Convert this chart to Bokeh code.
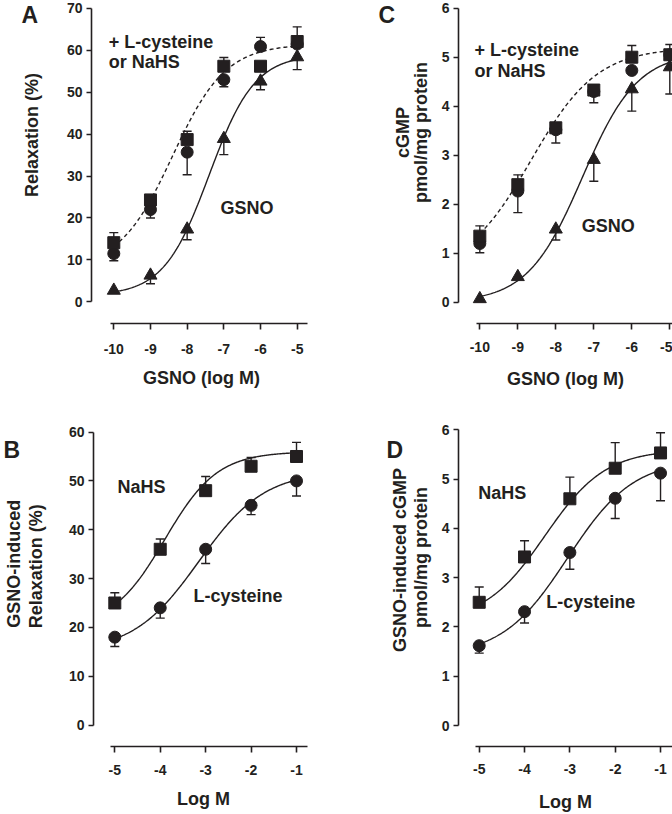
import numpy as np
from bokeh.plotting import figure
from bokeh.layouts import column, row
from bokeh.models import (Range1d, LinearAxis, FixedTicker, ColumnDataSource,
                          Whisker, TeeHead, Label)
from bokeh.core.properties import value
from bokeh.embed import file_html
from bokeh.resources import INLINE

# ---------------- data ----------------
# Panel A: relaxation (%) vs GSNO (log M)
A_x = [-10, -9, -8, -7, -6, -5]
A_gsno = [2.7, 6.3, 17.3, 38.9, 52.6, 58.4]
A_gsno_err = [0, -2.0, -2.5, -3.8, -2.0, -3.0]
A_nahs = [14.1, 24.3, 38.7, 56.2, 56.2, 62.1]
A_nahs_err = [2.4, 0, 2.0, 2.1, 0, 3.5]
A_cys = [11.5, 22.0, 35.7, 53.0, 60.9, 61.5]
A_cys_err = [-1.7, -2.0, -5.4, -1.7, 2.2, 0]
A_fit_gsno = [1.5, 59.0, -7.4, 0.7]       # bottom, top, logEC50, hill
A_fit_plus = [8.0, 61.5, -8.4, 0.6]
A_yticks = [0, 10, 20, 30, 40, 50, 60, 70]

# Panel C: cGMP (pmol/mg protein) vs GSNO (log M)
C_x = [-10, -9, -8, -7, -6, -5]
C_gsno = [0.07, 0.52, 1.49, 2.91, 4.35, 4.8]
C_gsno_err = [0, 0, -0.22, -0.44, -0.45, -0.55]
C_nahs = [1.35, 2.40, 3.56, 4.33, 5.0, 5.05]
C_nahs_err = [0.21, 0.2, 0, 0, 0.24, 0.21]
C_cys = [1.2, 2.27, 3.52, 4.3, 4.73, 5.05]
C_cys_err = [-0.19, -0.44, -0.27, -0.23, 0, 0]
C_fit_gsno = [0.0, 5.1, -7.3, 0.6]
C_fit_plus = [0.6, 5.2, -8.65, 0.5]
C_yticks = [0, 1, 2, 3, 4, 5, 6]
AC_xticks = [-10, -9, -8, -7, -6, -5]

# Panel B: GSNO-induced relaxation (%) vs donor (log M)
B_x = [-5, -4, -3, -2, -1]
B_nahs = [25, 36, 48, 53, 55]
B_nahs_err = [2.1, 2.1, 2.9, 1.8, 2.9]
B_cys = [18, 24, 36, 45, 50]
B_cys_err = [-1.9, -2.1, -2.9, -1.9, -3.1]
B_fit_nahs = [20.0, 56.0, -3.9, 0.75]
B_fit_cys = [15.0, 52.0, -3.15, 0.6]
B_yticks = [0, 10, 20, 30, 40, 50, 60]

# Panel D: GSNO-induced cGMP vs donor (log M)
D_x = [-5, -4, -3, -2, -1]
D_nahs = [2.5, 3.42, 4.6, 5.22, 5.53]
D_nahs_err = [0.31, 0.33, 0.44, 0.52, 0.41]
D_cys = [1.62, 2.31, 3.51, 4.61, 5.12]
D_cys_err = [-0.15, -0.23, -0.34, -0.41, -0.56]
D_fit_nahs = [2.1, 5.6, -3.55, 0.65]
D_fit_cys = [1.4, 5.4, -3.05, 0.6]
D_yticks = [0, 1, 2, 3, 4, 5, 6]
BD_xticks = [-5, -4, -3, -2, -1]

# ---------------- style ----------------
FONT = "Liberation Sans"
INK = "#231f20"
TICK_PX = "14px"
TITLE_PX = "18px"
LETTER_PX = "23px"


def logistic(x, params):
    b, t, c, h = params
    return b + (t - b) / (1.0 + 10 ** (h * (c - x)))


def make_fig(w, h, xr, yr, bl, br, bt, bb):
    p = figure(width=w, height=h, x_range=Range1d(*xr), y_range=Range1d(*yr),
               output_backend="svg", toolbar_location=None,
               x_axis_location=None, y_axis_location=None,
               min_border_left=bl, min_border_right=br,
               min_border_top=bt, min_border_bottom=bb)
    p.outline_line_color = None
    p.grid.visible = False
    p.background_fill_color = "white"
    p.border_fill_color = "white"
    return p


def style_axis(ax, label, tick_len, label_standoff, title_standoff, ticks):
    ax.axis_label = label
    ax.axis_line_color = INK
    ax.axis_line_width = 1.6
    ax.major_tick_line_color = INK
    ax.major_tick_line_width = 1.6
    ax.major_tick_out = tick_len
    ax.major_tick_in = 0
    ax.minor_tick_line_color = None
    ax.major_label_overrides = {t: str(t) for t in ticks}   # plain hyphen minus
    ax.major_label_text_font = FONT
    ax.major_label_text_font_style = "bold"
    ax.major_label_text_font_size = TICK_PX
    ax.major_label_text_color = INK
    ax.major_label_standoff = label_standoff
    ax.axis_label_text_font = FONT
    ax.axis_label_text_font_style = "bold"
    ax.axis_label_text_font_size = TITLE_PX
    ax.axis_label_text_color = INK
    ax.axis_label_standoff = title_standoff


def add_axes(p, xticks, xbounds, xlabel, xlst, xst, yticks, ybounds):
    xa = LinearAxis(ticker=FixedTicker(ticks=xticks), bounds=xbounds)
    style_axis(xa, xlabel, 6, xlst, xst, xticks)
    ya = LinearAxis(ticker=FixedTicker(ticks=yticks), bounds=ybounds)
    style_axis(ya, None, 5, 4, 0, yticks)
    p.add_layout(xa, "below")
    p.add_layout(ya, "left")


def add_series(p, xs, ys, errs, marker, size):
    up = [(x, y, y + e) for x, y, e in zip(xs, ys, errs) if e > 0]
    dn = [(x, y + e, y) for x, y, e in zip(xs, ys, errs) if e < 0]
    if up:
        src = ColumnDataSource(dict(x=[u[0] for u in up], lo=[u[1] for u in up],
                                    hi=[u[2] for u in up]))
        p.add_layout(Whisker(source=src, base="x", lower="lo", upper="hi",
                             line_color=INK, line_width=1.4,
                             upper_head=TeeHead(size=9, line_color=INK, line_width=1.4),
                             lower_head=None))
    if dn:
        src = ColumnDataSource(dict(x=[u[0] for u in dn], lo=[u[1] for u in dn],
                                    hi=[u[2] for u in dn]))
        p.add_layout(Whisker(source=src, base="x", lower="lo", upper="hi",
                             line_color=INK, line_width=1.4,
                             lower_head=TeeHead(size=9, line_color=INK, line_width=1.4),
                             upper_head=None))
    p.scatter(xs, ys, marker=marker, size=size, fill_color=INK, line_color=INK)


def add_curve(p, x0, x1, params, dash="solid"):
    xx = np.linspace(x0, x1, 200)
    p.line(xx, logistic(xx, params), line_color=INK, line_width=1.4, line_dash=dash)


def add_text(p, x, y, txt, size=TITLE_PX):
    p.add_layout(Label(x=x, y=y, text=txt, text_font=FONT, text_font_style="bold",
                       text_font_size=size, text_color=INK,
                       text_align="left", text_baseline="middle"))


def make_strip(w, h, letter_xy, title_lines):
    """Narrow figure holding the panel letter and the rotated y-axis title."""
    s = figure(width=w, height=h, x_range=Range1d(0, w), y_range=Range1d(0, h),
               output_backend="svg", toolbar_location=None,
               x_axis_location=None, y_axis_location=None, min_border=0)
    s.outline_line_color = None
    s.grid.visible = False
    s.text(x=[letter_xy[0]], y=[letter_xy[1]], text=[letter_xy[2]],
           text_font=value(FONT), text_font_style="bold", text_font_size=LETTER_PX,
           text_color=INK, text_align="left", text_baseline="middle")
    s.text(x=[t[0] for t in title_lines], y=[t[1] for t in title_lines],
           text=[t[2] for t in title_lines], angle=np.pi / 2,
           text_font=value(FONT), text_font_style="bold", text_font_size=TITLE_PX,
           text_color=INK, text_align="center", text_baseline="middle")
    return s


# ---------------- panel A ----------------
sA = make_strip(50, 400, (21, 385, "A"), [(31, 235, "Relaxation (%)")])
pA = make_fig(286, 400, (-10.608, -4.610), (-5.185, 71.41), 41, 25, 2, 73)
add_axes(pA, AC_xticks, (-10.09, -4.73), "GSNO (log M)", 14, 11, A_yticks, (0, 70))
add_curve(pA, -10, -5, A_fit_plus, "4 3")
add_curve(pA, -10, -5, A_fit_gsno)
add_series(pA, A_x, A_gsno, A_gsno_err, "triangle", 13)
add_series(pA, A_x, A_cys, A_cys_err, "circle", 12)
add_series(pA, A_x, A_nahs, A_nahs_err, "square", 12)
add_text(pA, -10.14, 62.0, "+ L-cysteine")
add_text(pA, -10.14, 57.3, "or NaHS")
add_text(pA, -7.09, 22.4, "GSNO")

# ---------------- panel C ----------------
sC = make_strip(96, 400, (42, 384, "C"),
                [(66, 238, "cGMP"), (84, 238, "pmol/mg protein")])
pC = make_fig(240, 400, (-10.561, -4.929), (-0.432, 6.116), 26, 0, 0, 77)
add_axes(pC, AC_xticks, (-10.09, -4.929), "GSNO (log M)", 12, 14, C_yticks, (0, 6))
add_curve(pC, -10, -5, C_fit_plus, "4 3")
add_curve(pC, -10, -5, C_fit_gsno)
add_series(pC, C_x, C_gsno, C_gsno_err, "triangle", 13)
add_series(pC, C_x, C_cys, C_cys_err, "circle", 12)
add_series(pC, C_x, C_nahs, C_nahs_err, "square", 12)
add_text(pC, -10.14, 5.15, "+ L-cysteine")
add_text(pC, -10.14, 4.72, "or NaHS")
add_text(pC, -7.32, 1.56, "GSNO")

# ---------------- panel B ----------------
sB = make_strip(50, 414, (3, 376, "B"),
                [(13, 232, "GSNO-induced"), (35, 232, "Relaxation  (%)")])
pB = make_fig(286, 414, (-5.469, -0.626), (-4.39, 62.37), 43, 23, 20, 64)
add_axes(pB, BD_xticks, (-5.095, -0.764), "Log M", 12, 11, B_yticks, (0, 60))
add_curve(pB, -5, -1, B_fit_nahs)
add_curve(pB, -5, -1, B_fit_cys)
add_series(pB, B_x, B_cys, B_cys_err, "circle", 12)
add_series(pB, B_x, B_nahs, B_nahs_err, "square", 12)
add_text(pB, -4.94, 48.8, "NaHS")
add_text(pB, -3.27, 26.4, "L-cysteine")

# ---------------- panel D ----------------
sD = make_strip(96, 414, (50, 376, "D"),
                [(63, 240, "GSNO-induced  cGMP"), (84, 240, "pmol/mg protein")])
pD = make_fig(240, 414, (-5.457, -0.736), (-0.425, 6.188), 26, 0, 20, 67)
add_axes(pD, BD_xticks, (-5.09, -0.736), "Log M", 11, 15, D_yticks, (0, 6))
add_curve(pD, -5, -1, D_fit_nahs)
add_curve(pD, -5, -1, D_fit_cys)
add_series(pD, D_x, D_cys, D_cys_err, "circle", 12)
add_series(pD, D_x, D_nahs, D_nahs_err, "square", 12)
add_text(pD, -5.02, 4.71, "NaHS")
add_text(pD, -3.52, 2.50, "L-cysteine")

layout = column(row(sA, pA, sC, pC), row(sB, pB, sD, pD))
open("out.html", "w").write(file_html(layout, INLINE))
